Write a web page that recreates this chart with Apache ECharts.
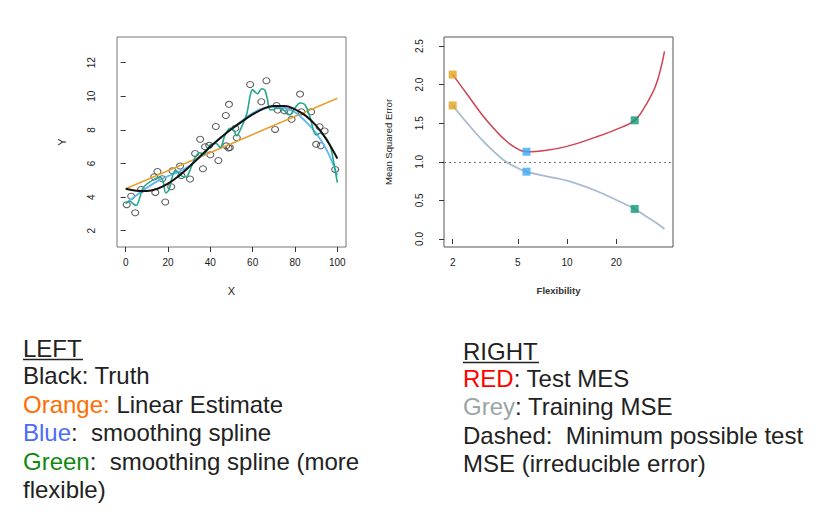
<!DOCTYPE html>
<html>
<head>
<meta charset="utf-8">
<script src="https://cdn.jsdelivr.net/npm/echarts@6/dist/echarts.min.js"></script>
<style>
html,body{margin:0;padding:0;background:#fff;}
#chart{width:832px;height:521px;}
</style>
</head>
<body>
<div id="chart"></div>
<script>
// ---------- LEFT PANEL DATA ----------
var pointX = [0.5,2.6,4.5,7.3,13.5,14.0,15.0,17.3,18.7,21.5,22.1,25.7,26.3,30.4,32.8,35.2,36.5,37.5,39.5,40.0,42.6,43.8,47.3,48.8,47.5,48.6,49.2,51.8,52.5,58.8,64.1,66.5,70.6,71.3,71.8,75.0,77.2,78.4,82.4,83.0,87.6,90.0,92.2,91.6,94.0,99.0];
var pointY = [3.55,4.05,3.07,4.45,5.21,4.28,5.52,5.09,3.71,4.62,5.57,5.85,5.29,5.08,6.6,7.44,5.69,7.0,7.08,6.52,8.2,6.18,8.86,9.52,7.05,6.92,6.95,8.1,7.53,10.7,9.68,10.93,8.03,9.45,9.18,9.14,9.08,8.63,10.13,9.08,9.08,7.14,7.06,8.19,7.94,5.65];

var curveX = [0,5,10,15,20,25,30,35,40,45,50,55,60,65,70,75,80,85,90,95,100];
var truthY = [4.5,4.38,4.36,4.5,4.8,5.25,5.8,6.4,7.0,7.55,8.05,8.5,8.92,9.25,9.42,9.42,9.22,8.85,8.25,7.4,6.3];
var blueY  = [3.62,4.1,4.55,4.95,5.25,5.5,5.85,6.4,7.0,7.55,8.05,8.55,9.0,9.3,9.38,9.3,9.05,8.5,7.8,6.8,5.3];

var linearX = [0,100];
var linearY = [4.5,9.88];

var greenX = [0,2,3.5,5,6.5,8,10,13.5,16,17.5,19,20.5,22,23.5,25,26.5,28.5,30.4,32.8,35,37,39.8,42.7,44.6,47,49.3,51,52.4,54.8,57.2,60,62.2,64.3,65.8,67,68.2,69.8,71.3,74.5,77.6,80,82.4,84.7,87,90,92,94.2,96.5,98.4,100];
var greenY = [3.63,3.75,3.6,3.5,3.9,4.5,4.78,5.06,5.2,5.0,4.25,4.45,5.2,5.6,5.45,5.25,5.2,5.6,6.35,6.64,6.56,7.1,7.2,6.95,7.7,8.1,8.0,7.65,8.2,8.95,10.4,10.15,10.45,10.35,9.8,9.2,9.2,9.3,9.18,8.9,9.3,9.6,9.5,8.8,7.7,7.8,7.6,7.1,6.0,4.86];

var leftXTicks = [0,20,40,60,80,100];
var leftYTicks = [2,4,6,8,10,12];

// ---------- RIGHT PANEL DATA ----------
var flex     = [2,2.5,3,3.5,4,4.7,5.65,7.5,10,15,20,25.9,30,35,39.4];
var testMSE  = [2.13,1.85,1.62,1.45,1.32,1.20,1.13,1.15,1.2,1.32,1.42,1.537,1.72,2.0,2.43];
var trainMSE = [1.73,1.48,1.29,1.15,1.04,0.945,0.872,0.812,0.755,0.625,0.505,0.389,0.30,0.21,0.13];
var markFlex  = [2,5.65,25.9];
var markTest  = [2.13,1.13,1.537];
var markTrain = [1.73,0.872,0.389];
var markColors = ['#E2A21E','#3BA9F2','#0E9A76'];
var irreducible = 1.0;
var rightXTicks = [2,5,10,20];
var rightYTicks = [0,0.5,1.0,1.5,2.0,2.5];

// ---------- TEXT ----------
var leftTitle = 'LEFT';
var rightTitle = 'RIGHT';

function zip(a,b){ return a.map(function(v,i){ return [v,b[i]]; }); }
function lg(v){ return Math.log(v)/Math.LN10; }
function zipLog(a,b){ return a.map(function(v,i){ return [lg(v),b[i]]; }); }

var FONT = 'Liberation Sans, Arial, sans-serif';
var txt = '#222222';

function richLine(parts){
  var s = '', rich = {};
  parts.forEach(function(p,i){
    var k = 'p'+i;
    s += '{'+k+'|'+p[0]+'}';
    rich[k] = {fill:p[1], fontSize:24, fontFamily:FONT};
  });
  return {text:s, rich:rich};
}

function textEl(x,y,parts){
  var r = richLine(parts);
  return {type:'text', x:x, y:y, silent:true,
    style:{text:r.text, rich:r.rich, fontSize:24, fontFamily:FONT, fill:txt, align:'left', verticalAlign:'middle'}};
}

var axisLabelStyle = {fontSize:10, color:'#1a1a1a', fontFamily:FONT};
var tickStyle = {show:true, inside:false, length:5, lineStyle:{color:'#333', width:1}};

var chart = echarts.init(document.getElementById('chart'), null, {renderer:'svg'});
chart.setOption({
  backgroundColor:'#fff',
  animation:false,
  grid:[
    {left:117, top:37, width:229, height:210, show:true, borderColor:'#777', borderWidth:1, backgroundColor:'transparent'},
    {left:444, top:37, width:229, height:210, show:true, borderColor:'#555', borderWidth:1, backgroundColor:'transparent'}
  ],
  xAxis:[
    {type:'value', gridIndex:0, min:-4.1, max:104.1,
     axisLine:{show:false}, splitLine:{show:false},
     axisTick:Object.assign({customValues:leftXTicks}, tickStyle),
     axisLabel:Object.assign({customValues:leftXTicks, margin:10}, axisLabelStyle),
     name:'X', nameLocation:'middle', nameGap:38, nameTextStyle:{fontSize:11, color:'#222', fontFamily:FONT}},
    {type:'value', gridIndex:1, min:lg(1.77), max:lg(44.4),
     axisLine:{show:false}, splitLine:{show:false},
     axisTick:Object.assign({customValues:rightXTicks.map(lg)}, tickStyle),
     axisLabel:Object.assign({customValues:rightXTicks.map(lg), margin:10,
       formatter:function(v){ return String(Math.round(Math.pow(10,v))); }}, axisLabelStyle),
     name:'Flexibility', nameLocation:'middle', nameGap:38, nameTextStyle:{fontSize:9.5, fontWeight:'bold', color:'#333', fontFamily:FONT}}
  ],
  yAxis:[
    {type:'value', gridIndex:0, min:1.03, max:13.53,
     axisLine:{show:false}, splitLine:{show:false},
     axisTick:Object.assign({customValues:leftYTicks}, tickStyle),
     axisLabel:Object.assign({customValues:leftYTicks, rotate:90, margin:21}, axisLabelStyle),
     name:'Y', nameLocation:'middle', nameGap:50, nameRotate:90, nameTextStyle:{fontSize:11, color:'#222', fontFamily:FONT}},
    {type:'value', gridIndex:1, min:-0.104, max:2.617,
     axisLine:{show:false}, splitLine:{show:false},
     axisTick:Object.assign({customValues:rightYTicks}, tickStyle),
     axisLabel:Object.assign({customValues:rightYTicks, rotate:90, margin:20,
       formatter:function(v){ return v.toFixed(1); }}, axisLabelStyle),
     name:'Mean Squared Error', nameLocation:'middle', nameGap:51, nameRotate:90, nameTextStyle:{fontSize:9.5, color:'#222', fontFamily:FONT}}
  ],
  series:[
    {type:'scatter', xAxisIndex:0, yAxisIndex:0, data:zip(pointX,pointY), symbol:'circle', symbolSize:[7,6],
     itemStyle:{color:'rgba(255,255,255,0)', borderColor:'#333', borderWidth:1}, z:2},
    {type:'line', xAxisIndex:0, yAxisIndex:0, data:zip(linearX,linearY), showSymbol:false, symbol:'none',
     lineStyle:{color:'#E6A132', width:1.6}, z:3},
    {type:'line', xAxisIndex:0, yAxisIndex:0, data:zip(curveX,blueY), showSymbol:false, symbol:'none', smooth:0.4,
     lineStyle:{color:'#5DB8F2', width:1.8}, z:4},
    {type:'line', xAxisIndex:0, yAxisIndex:0, data:zip(greenX,greenY), showSymbol:false, symbol:'none', smooth:0.35,
     lineStyle:{color:'#22A88C', width:1.6}, z:5},
    {type:'line', xAxisIndex:0, yAxisIndex:0, data:zip(curveX,truthY), showSymbol:false, symbol:'none', smooth:0.4,
     lineStyle:{color:'#111', width:2}, z:6},

    {type:'line', xAxisIndex:1, yAxisIndex:1, data:zipLog(flex,testMSE), showSymbol:false, symbol:'none', smooth:0.4,
     lineStyle:{color:'#D0424F', width:1.5}, z:3,
     markLine:{silent:true, symbol:'none', label:{show:false},
       lineStyle:{color:'#777', type:[2,3], width:1}, data:[{yAxis:irreducible}]}},
    {type:'line', xAxisIndex:1, yAxisIndex:1, data:zipLog(flex,trainMSE), showSymbol:false, symbol:'none', smooth:0.4,
     lineStyle:{color:'#A9BAD1', width:1.8}, z:3},
    {type:'scatter', xAxisIndex:1, yAxisIndex:1, symbol:'rect', symbolSize:8, z:5,
     data:markFlex.map(function(f,i){ return {value:[lg(f),markTest[i]], itemStyle:{color:markColors[i]}}; })},
    {type:'scatter', xAxisIndex:1, yAxisIndex:1, symbol:'rect', symbolSize:8, z:5,
     data:markFlex.map(function(f,i){ return {value:[lg(f),markTrain[i]], itemStyle:{color:markColors[i]}}; })}
  ],
  graphic:[
    textEl(23,348.4,[[leftTitle,txt]]),
    {type:'line', silent:true, shape:{x1:23,y1:359.5,x2:83,y2:359.5}, style:{stroke:txt, lineWidth:1.5}},
    textEl(23,375.7,[['Black: Truth',txt]]),
    textEl(23,404,[['Orange:','#FF6D01'],[' Linear Estimate',txt]]),
    textEl(23,432.4,[['Blue','#4A6CF7'],[':  smoothing spline',txt]]),
    textEl(23,461,[['Green','#0F8A0F'],[':  smoothing spline (more',txt]]),
    textEl(23,489.4,[['flexible)',txt]]),

    textEl(463,351,[[rightTitle,txt]]),
    {type:'line', silent:true, shape:{x1:463,y1:362.5,x2:539,y2:362.5}, style:{stroke:txt, lineWidth:1.5}},
    textEl(463,378.4,[['RED','#FF0000'],[': Test MES',txt]]),
    textEl(463,406.7,[['Grey','#9AA5A5'],[': Training MSE',txt]]),
    textEl(463,435,[['Dashed:  Minimum possible test',txt]]),
    textEl(463,463.4,[['MSE (irreducible error)',txt]])
  ]
});
</script>
</body>
</html>
